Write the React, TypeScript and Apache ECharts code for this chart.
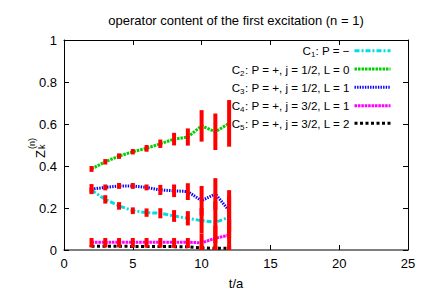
import React, { useEffect, useRef } from "react";
import * as echarts from "echarts";

const tValues = [2, 3, 4, 5, 6, 7, 8, 9, 10, 11, 12];
const seriesNames = ["C1", "C2", "C3", "C4", "C5"];
const legendSubs = ["1", "2", "3", "4", "5"];
const legendLabels = [
  ": P = \u2212",
  ": P = +, j = 1/2, L = 0",
  ": P = +, j = 1/2, L = 1",
  ": P = +, j = 3/2, L = 1",
  ": P = +, j = 3/2, L = 2",
];
const c1Values = [0.285, 0.241, 0.21, 0.187, 0.178, 0.175, 0.162, 0.151, 0.14, 0.132, 0.156];
const c1Errors = [0.012, 0.02, 0.018, 0.016, 0.02, 0.024, 0.028, 0.034, 0.06, 0.1, 0.1];
const c2Values = [0.386, 0.42, 0.447, 0.468, 0.484, 0.506, 0.528, 0.538, 0.591, 0.563, 0.603];
const c2Errors = [0.014, 0.013, 0.013, 0.013, 0.016, 0.02, 0.03, 0.041, 0.075, 0.087, 0.111];
const c3Values = [0.29, 0.298, 0.305, 0.305, 0.298, 0.286, 0.282, 0.278, 0.235, 0.267, 0.187];
const c3Errors = [0.024, 0.014, 0.014, 0.014, 0.014, 0.024, 0.03, 0.04, 0.07, 0.075, 0.098];
const c4Values = [0.037, 0.037, 0.037, 0.037, 0.037, 0.037, 0.037, 0.037, 0.034, 0.056, 0.071];
const c4Errors = [0.02, 0.02, 0.02, 0.02, 0.02, 0.02, 0.02, 0.02, 0.045, 0.06, 0.075];
const c5Values = [0.018, 0.018, 0.018, 0.017, 0.017, 0.017, 0.016, 0.016, 0.01, 0.008, 0.008];
const c5Errors = [0.006, 0.006, 0.006, 0.006, 0.006, 0.006, 0.006, 0.007, 0.012, 0.012, 0.012];
const yTicks = [0, 0.2, 0.4, 0.6, 0.8, 1];
const xTicks = [0, 5, 10, 15, 20, 25];

const allValues = [c1Values, c2Values, c3Values, c4Values, c5Values];
const allErrors = [c1Errors, c2Errors, c3Errors, c4Errors, c5Errors];
const colors = ["#00dede", "#00d000", "#0000ff", "#ff00ff", "#000000"];
const dashes = [[5, 2, 2, 2], [2.5, 1], [1.4, 1.2], [2.6, 0.8], [3, 2.5]];

const FONT = "'Liberation Sans', Arial, Helvetica, sans-serif";

export default function App() {
  const ref = useRef<HTMLDivElement>(null);
  useEffect(() => {
    if (!ref.current) return;
    const chart = echarts.init(ref.current, undefined, { renderer: "svg" });
    const errData: number[][] = [];
    allValues.forEach((vals, si) => {
      vals.forEach((v, i) => {
        errData.push([tValues[i], v - allErrors[si][i], v + allErrors[si][i]]);
      });
    });
    const lineSeries = seriesNames.map((name, si) => ({
      name,
      type: "line",
      data: tValues.map((t, i) => [t, allValues[si][i]]),
      symbol: "none",
      showSymbol: false,
      clip: true,
      lineStyle: { color: colors[si], width: 3, type: dashes[si] },
      itemStyle: { color: colors[si] },
      z: 2,
    }));
    const legendTops = [44.7, 63, 81.3, 99.7, 117.3];
    const legends = seriesNames.map((name, si) => ({
      data: [name],
      orient: "vertical",
      right: 40,
      top: legendTops[si],
      padding: 0,
      align: "right",
      itemWidth: 36,
      itemHeight: 14,
      itemGap: 0,
      selectedMode: false,
      itemStyle: { opacity: 0, borderWidth: 0 },
      lineStyle: { width: 3, type: dashes[si], color: colors[si] },
      formatter: () => `{m|C}{s|${legendSubs[si]}}{m|${legendLabels[si]}}`,
      textStyle: {
        color: "#000",
        fontFamily: FONT,
        rich: {
          m: { fontSize: 11.6, lineHeight: 16, fontFamily: FONT, color: "#000" },
          s: { fontSize: 8, lineHeight: 8, verticalAlign: "bottom", fontFamily: FONT, color: "#000" },
        },
      },
    }));
    const axisCommonX = {
      type: "value",
      min: xTicks[0],
      max: xTicks[xTicks.length - 1],
      interval: xTicks[1] - xTicks[0],
      splitLine: { show: false },
    };
    const axisCommonY = {
      type: "value",
      min: yTicks[0],
      max: yTicks[yTicks.length - 1],
      interval: yTicks[1] - yTicks[0],
      splitLine: { show: false },
    };
    chart.setOption({
      animation: false,
      backgroundColor: "#fff",
      title: {
        text: "operator content of the first excitation (n = 1)",
        left: 236,
        textAlign: "center",
        top: 14,
        padding: 0,
        textStyle: { fontSize: 13, fontWeight: "normal", fontFamily: FONT, color: "#000" },
      },
      legend: legends,
      grid: { left: 64, right: 24, top: 40, bottom: 53, containLabel: false },
      xAxis: [
        {
          ...axisCommonX,
          position: "bottom",
          name: "t/a",
          nameLocation: "middle",
          nameGap: 27,
          nameTextStyle: { fontSize: 13, fontFamily: FONT, color: "#000" },
          axisLine: { show: true, onZero: false, lineStyle: { color: "#555", width: 1.5 } },
          axisTick: { show: true, inside: true, length: 5, lineStyle: { color: "#000" } },
          axisLabel: { show: true, margin: 7, fontSize: 13, fontFamily: FONT, color: "#000" },
        },
        {
          ...axisCommonX,
          position: "top",
          axisLine: { show: true, onZero: false, lineStyle: { color: "#000", width: 1 } },
          axisTick: { show: true, inside: true, length: 5, lineStyle: { color: "#000" } },
          axisLabel: { show: false },
        },
      ],
      yAxis: [
        {
          ...axisCommonY,
          position: "left",
          axisLine: { show: true, onZero: false, lineStyle: { color: "#000", width: 1 } },
          axisTick: { show: true, inside: true, length: 5, lineStyle: { color: "#000" } },
          axisLabel: { show: true, margin: 7, fontSize: 13, fontFamily: FONT, color: "#000" },
        },
        {
          ...axisCommonY,
          position: "right",
          axisLine: { show: true, onZero: false, lineStyle: { color: "#000", width: 1 } },
          axisTick: { show: true, inside: true, length: 5, lineStyle: { color: "#000" } },
          axisLabel: { show: false },
        },
      ],
      graphic: [
        {
          type: "group",
          x: 34,
          y: 158,
          rotation: Math.PI / 2,
          children: [
            { type: "text", x: 0, y: 0, style: { text: "Z", fontSize: 13, fontFamily: FONT, fill: "#000", align: "left", verticalAlign: "alphabetic" } },
            { type: "text", x: 9, y: 3, style: { text: "k", fontSize: 9, fontFamily: FONT, fill: "#000", align: "left", verticalAlign: "alphabetic" } },
            { type: "text", x: 9, y: -6.5, style: { text: "(n)", fontSize: 9, fontFamily: FONT, fill: "#000", align: "left", verticalAlign: "alphabetic" } },
          ],
        },
      ],
      series: [
        ...lineSeries,
        {
          type: "custom",
          name: "errors",
          clip: true,
          z: 5,
          data: errData,
          renderItem: (params: any, api: any) => {
            const x = api.value(0);
            const p1 = api.coord([x, api.value(1)]);
            const p2 = api.coord([x, api.value(2)]);
            return {
              type: "line",
              shape: { x1: p1[0], y1: p1[1], x2: p2[0], y2: p2[1] },
              style: { stroke: "#ff0000", lineWidth: 4 },
            };
          },
        },
      ],
    });
    return () => chart.dispose();
  }, []);
  return <div ref={ref} style={{ width: 432, height: 303, position: "absolute", left: 0, top: 0 }} />;
}
